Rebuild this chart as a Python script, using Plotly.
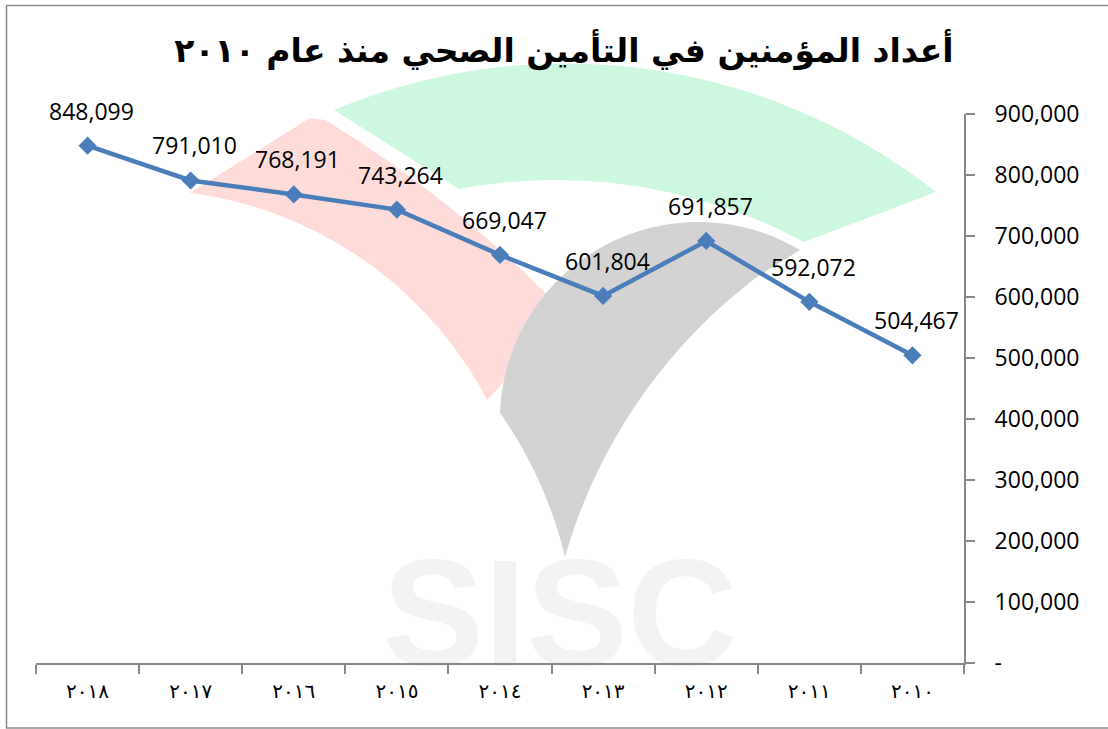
import math
import plotly.graph_objects as go

# ---- data ----
years = ["٢٠١٨", "٢٠١٧", "٢٠١٦", "٢٠١٥", "٢٠١٤", "٢٠١٣", "٢٠١٢", "٢٠١١", "٢٠١٠"]
insured = [848099, 791010, 768191, 743264, 669047, 601804, 691857, 592072, 504467]
y_ticks = [0, 100000, 200000, 300000, 400000, 500000, 600000, 700000, 800000, 900000]
y_tick_labels = ["-"] + [f"{v:,}" for v in y_ticks[1:]]
title_text = "أعداد المؤمنين في التأمين الصحي منذ عام ٢٠١٠"

# ---- layout geometry (pixels) ----
W, H = 1108, 729
PL, PR, PT, PB = 36, 964, 114, 663  # plot area edges


def px(x, y):
    return ((x - PL) / (PR - PL), (PB - y) / (PB - PT))


def arc(p0, p1, p2, n=40):
    ax, ay = p0
    bx, by = p1
    cx, cy = p2
    d = 2 * (ax * (by - cy) + bx * (cy - ay) + cx * (ay - by))
    ux = ((ax**2 + ay**2) * (by - cy) + (bx**2 + by**2) * (cy - ay) + (cx**2 + cy**2) * (ay - by)) / d
    uy = ((ax**2 + ay**2) * (cx - bx) + (bx**2 + by**2) * (ax - cx) + (cx**2 + cy**2) * (bx - ax)) / d
    r = math.hypot(ax - ux, ay - uy)
    a0 = math.atan2(ay - uy, ax - ux)
    a1 = math.atan2(by - uy, bx - ux)
    a2 = math.atan2(cy - uy, cx - ux)
    tau = 2 * math.pi
    s = (a2 - a0) % tau
    t = (a1 - a0) % tau
    sweep = s if t < s else -(tau - s)
    return [(ux + r * math.cos(a0 + sweep * k / n), uy + r * math.sin(a0 + sweep * k / n)) for k in range(n + 1)]


def path(points):
    pts = [px(x, y) for x, y in points]
    return "M " + " L ".join(f"{x:.5f},{y:.5f}" for x, y in pts) + " Z"


# watermark logo pieces
green = arc((334, 110), (620, 66), (936, 192)) + arc((804, 242), (601, 182), (459, 189))
pink = ([(310, 118)] + arc((325, 120), (453, 210), (552, 300))
        + arc((552, 300), (530, 345), (487, 400)) + arc((487, 400), (337, 243), (190, 193)))
gray = (arc((500, 413), (625, 236), (800, 250)) + [(757, 277)]
        + arc((757, 277), (650, 385), (565, 557)) + arc((565, 557), (547, 500), (500, 413)))

shapes = [
    dict(type="path", xref="paper", yref="paper", path=path(green), fillcolor="#CDF8E0", line=dict(width=0), layer="below"),
    dict(type="path", xref="paper", yref="paper", path=path(pink), fillcolor="#FFDCDA", line=dict(width=0), layer="below"),
    dict(type="path", xref="paper", yref="paper", path=path(gray), fillcolor="#D3D3D3", line=dict(width=0), layer="below"),
]
bx0, by0 = px(6.5, 728)
bx1, by1 = px(1110, 5.5)
shapes.append(dict(type="rect", xref="paper", yref="paper", x0=bx0, y0=by0, x1=bx1, y1=by1,
                   line=dict(color="#8C8C8C", width=1.5), fillcolor="rgba(0,0,0,0)", layer="below"))

AXIS = "#878787"
NUMFONT = dict(family="Open Sans", size=23, color="black")

fig = go.Figure()
wx, wy = px(560, 628)
fig.add_trace(go.Scatter(x=[wx], y=[wy], xaxis="x2", yaxis="y2", mode="text", text=["SISC"],
                         textfont=dict(family="Liberation Sans", size=152, color="#F3F3F3", weight="bold"),
                         textposition="middle center", cliponaxis=False, hoverinfo="skip", showlegend=False))
fig.add_trace(go.Scatter(x=years, y=insured, mode="lines+markers",
                         line=dict(color="#4A7EBB", width=4.5),
                         marker=dict(symbol="diamond", size=14, color="#4A7EBB"),
                         cliponaxis=False, showlegend=False))

annotations = [dict(x=yr, y=v, text=f"{v:,}", showarrow=False, xshift=4, yshift=35, font=NUMFONT)
               for yr, v in zip(years, insured)]

fig.update_layout(
    width=W, height=H,
    margin=dict(l=PL, r=W - PR, t=PT, b=H - PB, pad=0),
    paper_bgcolor="white", plot_bgcolor="rgba(0,0,0,0)",
    showlegend=False,
    title=dict(text=title_text, x=564 / W, xanchor="center", y=1 - 50 / H, yanchor="middle", yref="container",
               font=dict(family="DejaVu Sans", size=33, color="black", weight="bold")),
    xaxis=dict(type="category", range=[-0.5, 8.5], tickson="boundaries", ticks="outside", ticklen=9, tickwidth=2,
               tickcolor=AXIS, showline=True, linecolor=AXIS, linewidth=2, showgrid=False, zeroline=False,
               tickfont=dict(family="DejaVu Sans", size=20, color="black"), ticklabelstandoff=9),
    yaxis=dict(side="right", range=[0, 900000], tickvals=y_ticks, ticktext=y_tick_labels, ticks="outside",
               ticklen=9, tickwidth=2, tickcolor=AXIS, showline=True, linecolor=AXIS, linewidth=2,
               showgrid=False, zeroline=False, tickfont=NUMFONT, ticklabelstandoff=15),
    xaxis2=dict(overlaying="x", range=[0, 1], visible=False),
    yaxis2=dict(overlaying="y", range=[0, 1], visible=False),
    shapes=shapes,
    annotations=annotations,
)

fig.write_html("out.html", config={"displayModeBar": False},
               post_script="document.body.style.margin='0';")
